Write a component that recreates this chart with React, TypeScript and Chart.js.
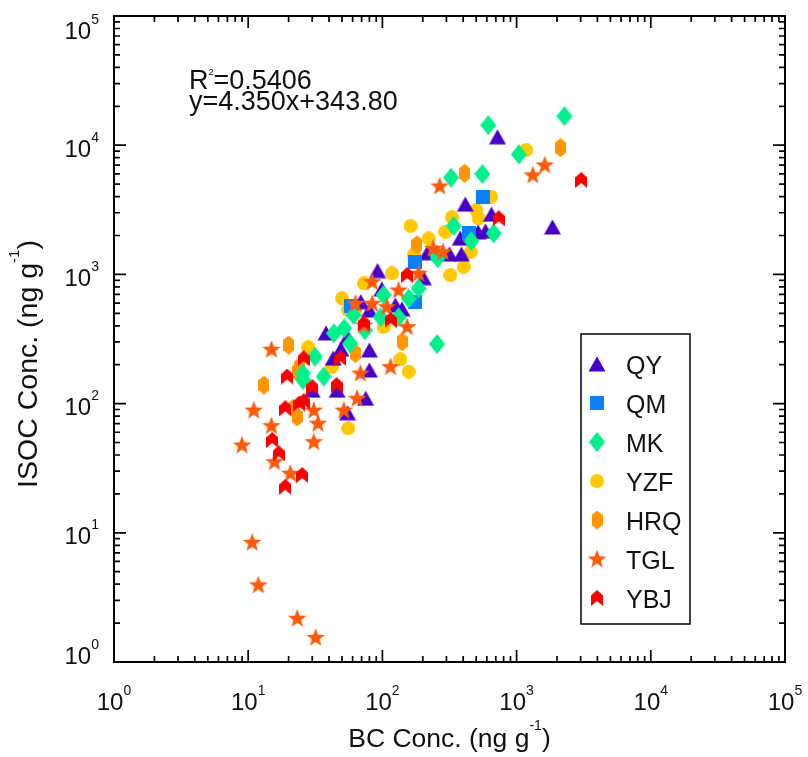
import React, { useEffect, useRef } from 'react';
import { Chart, registerables } from 'chart.js';

Chart.register(...registerables);

// ---------------- data (BC conc. x, ISOC conc. y, ng g-1) ----------------
const QY_X = [720, 1850, 415, 650, 380, 517, 586, 388, 316, 216, 92, 69, 99, 140, 80, 38, 49, 43, 80, 80, 202, 30, 46, 55, 75, 125, 55];
const QY_Y = [11600, 2330, 3500, 2930, 1910, 2130, 2170, 1440, 1440, 1470, 1070, 615, 771, 540, 530, 352, 265, 225, 260, 182, 943, 127, 127, 85, 110, 580, 328];

const QM_X = [560, 440, 176, 176, 58];
const QM_Y = [3950, 2080, 1254, 612, 570];

const MK_X = [615, 2270, 1040, 325, 556, 340, 460, 675, 258, 255, 157, 186, 132, 97, 102, 61, 52, 43.5, 31.4, 36.5, 57.5, 74, 25.5, 25.7, 255];
const MK_Y = [14300, 16800, 8500, 5610, 5980, 2370, 1815, 2080, 1334, 289, 653, 780, 466, 466, 693, 485, 383, 350, 231, 162, 292, 370, 171, 152, 1420];

const YZF_X = [1180, 646, 501, 522, 330, 162, 294, 221, 171, 404, 321, 454, 157, 136, 118, 73, 50, 63, 102, 28, 41.8, 55.6, 55.6];
const YZF_Y = [9180, 3990, 3150, 2720, 2770, 2370, 2140, 1900, 1415, 1148, 989, 1490, 177, 220, 1020, 853, 653, 530, 392, 273, 192, 64.4, 530];

const HRQ_X = [2120, 410, 181, 140, 63, 20, 23.2, 13.1, 24, 21.6, 23.2];
const HRQ_Y = [9560, 6060, 1690, 301, 245, 284, 177, 139, 192, 92, 79];

const TGL_X = [1620, 1320, 267, 239, 283, 186, 84, 132, 63, 84, 108, 73, 153, 115, 68.6, 14.9, 11, 14.9, 9.0, 15.7, 20.6, 30.8, 33.1, 30.8, 51.6, 64.8, 10.7, 11.9, 23.2, 31.8];
const TGL_Y = [7030, 5880, 4830, 1592, 1500, 1020, 878, 757, 597, 597, 562, 405, 394, 193, 172, 263, 89, 67.4, 47.8, 35.5, 28.9, 89, 70.4, 50.7, 89, 110, 8.44, 3.95, 2.18, 1.55];

const YBJ_X = [3030, 736, 153, 115, 73, 25.9, 48.7, 19.5, 45.5, 30.1, 18.9, 24, 25.9, 15.1, 16.9, 25.2, 18.9];
const YBJ_Y = [5380, 2720, 989, 444, 418, 224, 224, 162, 139, 134, 92, 100, 104, 52.3, 41.2, 28, 22.7];

const SERIES_NAMES = ['QY', 'QM', 'MK', 'YZF', 'HRQ', 'TGL', 'YBJ'];
const SERIES_X = [QY_X, QM_X, MK_X, YZF_X, HRQ_X, TGL_X, YBJ_X];
const SERIES_Y = [QY_Y, QM_Y, MK_Y, YZF_Y, HRQ_Y, TGL_Y, YBJ_Y];
const SERIES_SHAPES = ['triangle', 'square', 'diamond', 'circle', 'hexagon', 'star', 'chevron'];
const SERIES_COLORS = ['#4800c8', '#0a80ff', '#00f08c', '#ffc800', '#ff9600', '#ff5a0a', '#ff0000'];
const SERIES_ORDER = [5, 4, 3, 7, 6, 2, 1];

const MAJOR_TICKS = [1, 10, 100, 1000, 10000, 100000];
const TICK_EXPONENTS = ['0', '1', '2', '3', '4', '5'];
const MINOR_MULTIPLIERS = [2, 3, 4, 5, 6, 7, 8, 9];

const X_TITLE = ['BC Conc. (ng g', '-1', ')'];
const Y_TITLE = ['ISOC Conc. (ng g', '-1', ')'];
const R2_VALUE = '0.5406';
const FIT_EQUATION = 'y=4.350x+343.80';

const FONT = '"Liberation Sans", Arial, Helvetica, sans-serif';

function makeMarker(kind: string, color: string): HTMLCanvasElement {
  const c = document.createElement('canvas');
  let w = 16, h = 16;
  if (kind === 'triangle') { w = 18; h = 16; }
  if (kind === 'square') { w = 14; h = 14; }
  if (kind === 'diamond') { w = 16; h = 20; }
  if (kind === 'circle') { w = 14; h = 14; }
  if (kind === 'hexagon') { w = 11; h = 19; }
  if (kind === 'star') { w = 20; h = 19; }
  if (kind === 'chevron') { w = 12; h = 16; }
  c.width = w; c.height = h;
  const g = c.getContext('2d') as CanvasRenderingContext2D;
  g.fillStyle = color;
  g.beginPath();
  const poly = (pts: number[][]) => {
    g.moveTo(pts[0][0], pts[0][1]);
    for (let i = 1; i < pts.length; i++) g.lineTo(pts[i][0], pts[i][1]);
    g.closePath();
  };
  switch (kind) {
    case 'triangle':
      poly([[9, 0.5], [17.5, 15.5], [0.5, 15.5]]);
      break;
    case 'square':
      g.rect(0, 0, 14, 14);
      break;
    case 'diamond':
      poly([[8, 0], [16, 10], [8, 20], [0, 10]]);
      break;
    case 'circle':
      g.arc(7, 7, 7, 0, Math.PI * 2);
      break;
    case 'hexagon':
      poly([[5.5, 0], [11, 4.5], [11, 14.5], [5.5, 19], [0, 14.5], [0, 4.5]]);
      break;
    case 'star': {
      const cx = 10, cy = 10, ro = 9.8, ri = 4.1;
      const pts: number[][] = [];
      for (let i = 0; i < 10; i++) {
        const r = i % 2 === 0 ? ro : ri;
        const a = -Math.PI / 2 + (i * Math.PI) / 5;
        pts.push([cx + r * Math.cos(a), cy + r * Math.sin(a)]);
      }
      poly(pts);
      break;
    }
    case 'chevron':
      poly([[6, 0], [12, 5.5], [12, 16], [6, 11], [0, 16], [0, 5.5]]);
      break;
  }
  g.fill();
  return c;
}

function drawParts(ctx: CanvasRenderingContext2D, x: number, y: number, parts: { t: string; size: number; dy: number }[], align: 'left' | 'center' | 'right') {
  let total = 0;
  for (const p of parts) { ctx.font = `${p.size}px ${FONT}`; total += ctx.measureText(p.t).width; }
  let cx = align === 'left' ? x : align === 'center' ? x - total / 2 : x - total;
  ctx.textAlign = 'left';
  ctx.textBaseline = 'alphabetic';
  for (const p of parts) {
    ctx.font = `${p.size}px ${FONT}`;
    ctx.fillText(p.t, cx, y + p.dy);
    cx += ctx.measureText(p.t).width;
  }
}

export default function App() {
  const ref = useRef<HTMLCanvasElement | null>(null);

  useEffect(() => {
    if (!ref.current) return;
    const markers = SERIES_SHAPES.map((s, i) => makeMarker(s, SERIES_COLORS[i]));

    const datasets = SERIES_NAMES.map((name, i) => ({
      label: name,
      data: SERIES_X[i].map((x, j) => ({ x, y: SERIES_Y[i][j] })),
      pointStyle: markers[i] as any,
      pointRadius: 8,
      pointHoverRadius: 8,
      backgroundColor: SERIES_COLORS[i],
      borderColor: SERIES_COLORS[i],
      showLine: false,
      order: SERIES_ORDER[i],
    }));

    const framePlugin = {
      id: 'frameAxes',
      afterDraw(chart: any) {
        const { ctx, chartArea: a, scales } = chart;
        const xs = scales.x, ys = scales.y;
        ctx.save();
        ctx.strokeStyle = '#000';
        ctx.fillStyle = '#000';
        ctx.lineWidth = 2;
        ctx.strokeRect(a.left, a.top, a.right - a.left, a.bottom - a.top);

        // ticks
        ctx.lineWidth = 1.7;
        ctx.beginPath();
        const tickAt = (v: number, len: number) => {
          const px = xs.getPixelForValue(v);
          ctx.moveTo(px, a.bottom); ctx.lineTo(px, a.bottom - len);
          ctx.moveTo(px, a.top); ctx.lineTo(px, a.top + len);
          const py = ys.getPixelForValue(v);
          ctx.moveTo(a.left, py); ctx.lineTo(a.left + len, py);
          ctx.moveTo(a.right, py); ctx.lineTo(a.right - len, py);
        };
        MAJOR_TICKS.forEach((v, k) => {
          tickAt(v, 12);
          if (k < MAJOR_TICKS.length - 1) MINOR_MULTIPLIERS.forEach((m) => tickAt(v * m, 6));
        });
        ctx.stroke();

        // tick labels
        ctx.fillStyle = '#111';
        MAJOR_TICKS.forEach((v, k) => {
          const px = xs.getPixelForValue(v);
          drawParts(ctx, px, 710, [
            { t: '10', size: 24, dy: 0 },
            { t: TICK_EXPONENTS[k], size: 14, dy: -15 },
          ], 'center');
          const py = ys.getPixelForValue(v);
          const mid = Math.min(Math.max(py + 3, a.top + 14), a.bottom - 7);
          drawParts(ctx, 99, mid + 8.6, [
            { t: '10', size: 24, dy: 0 },
            { t: TICK_EXPONENTS[k], size: 14, dy: -15 },
          ], 'right');
        });

        // axis titles
        drawParts(ctx, (a.left + a.right) / 2, 747, [
          { t: X_TITLE[0], size: 26.5, dy: 0 },
          { t: X_TITLE[1], size: 14, dy: -17 },
          { t: X_TITLE[2], size: 26.5, dy: 0 },
        ], 'center');
        ctx.save();
        ctx.translate(37, 364);
        ctx.rotate(-Math.PI / 2);
        drawParts(ctx, 0, 0, [
          { t: Y_TITLE[0], size: 28.5, dy: 0 },
          { t: Y_TITLE[1], size: 15, dy: -18 },
          { t: Y_TITLE[2], size: 28.5, dy: 0 },
        ], 'center');
        ctx.restore();

        // annotation
        drawParts(ctx, 189, 89, [
          { t: 'R', size: 27, dy: 0 },
          { t: '2', size: 9, dy: -14 },
          { t: '=' + R2_VALUE, size: 27, dy: 0 },
        ], 'left');
        drawParts(ctx, 189, 110, [{ t: FIT_EQUATION, size: 27, dy: 0 }], 'left');

        // legend
        ctx.lineWidth = 1.5;
        ctx.strokeStyle = '#000';
        ctx.strokeRect(581, 334, 109, 290);
        SERIES_NAMES.forEach((name, i) => {
          const y = 364 + i * 39;
          const m = markers[i];
          ctx.drawImage(m, 597 - m.width / 2, y - m.height / 2);
          ctx.fillStyle = '#111';
          drawParts(ctx, 626, y + 10, [{ t: name, size: 25, dy: 0 }], 'left');
        });
        ctx.restore();
      },
    };

    const chart = new Chart(ref.current, {
      type: 'scatter',
      data: { datasets: datasets as any },
      options: {
        animation: false,
        responsive: true,
        maintainAspectRatio: false,
        layout: { padding: { left: 114, top: 16, right: 23, bottom: 95 } },
        plugins: { legend: { display: false }, tooltip: { enabled: false } },
        scales: {
          x: { type: 'logarithmic', min: 1, max: 100000, display: false },
          y: { type: 'logarithmic', min: 1, max: 100000, display: false },
        },
      },
      plugins: [framePlugin],
    });
    return () => chart.destroy();
  }, []);

  return (
    <div style={{ position: 'fixed', left: 0, top: 0, width: 808, height: 757, background: '#fff' }}>
      <canvas ref={ref} />
    </div>
  );
}
